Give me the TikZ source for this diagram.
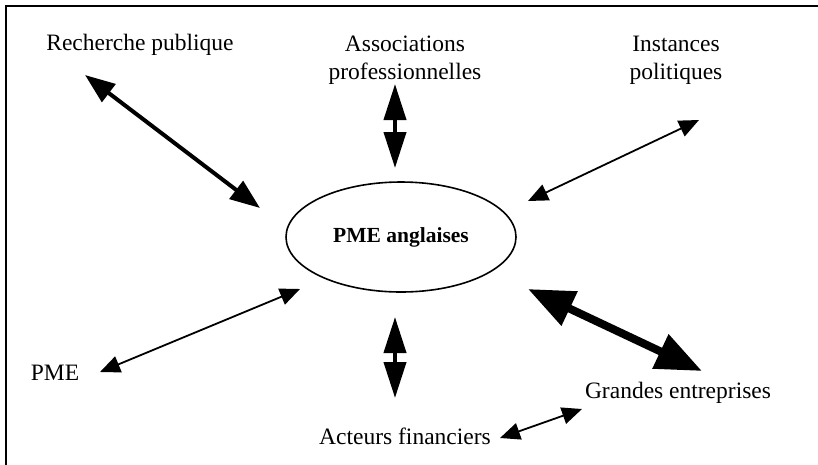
\documentclass[tikz,border=0pt]{standalone}
\usepackage{fontspec}
\setmainfont{Liberation Serif}
\usetikzlibrary{arrows.meta,shapes.geometric}
\tikzset{
  lbl/.style={font=\fontsize{23.5}{28}\selectfont, align=center, inner sep=0pt},
  thinarr/.style={line width=1.8pt, {Triangle[length=20pt,width=17pt]}-{Triangle[length=20pt,width=17pt]}},
  midarr/.style={line width=4pt, {Triangle[length=30pt,width=22pt]}-{Triangle[length=30pt,width=22pt]}},
  vertarr/.style={line width=4pt, {Triangle[length=36pt,width=22pt]}-{Triangle[length=36pt,width=22pt]}},
  bigarr/.style={line width=8pt, {Triangle[length=46pt,width=36pt]}-{Triangle[length=46pt,width=36pt]}},
}
\begin{document}
\begin{tikzpicture}[x=1pt,y=-1pt]
\useasboundingbox (0,0) rectangle (818,464);
\draw[line width=2pt] (820,6) -- (6,6) -- (6,470);
% labels
\node[lbl] (rp) at (140,45) {Recherche publique};
\node[lbl] (as) at (405,60) {Associations\\professionnelles};
\node[lbl] (ip) at (676,60) {Instances\\politiques};
\node[lbl] (pme) at (55,373) {PME};
\node[lbl] (ge) at (678,393) {Grandes entreprises};
\node[lbl] (af) at (405,436) {Acteurs financiers};
\node[draw, line width=1.6pt, ellipse, minimum width=230pt, minimum height=110pt, inner sep=0pt,
      font=\fontsize{21.5}{24}\selectfont\bfseries] (pa) at (401,237) {PME anglaises\hspace{10pt}};
% arrow end points
\coordinate (rpA) at (85,75);   \coordinate (rpB) at (260,208);
\coordinate (asA) at (395,84);  \coordinate (asB) at (395,168);
\coordinate (ipA) at (699,120); \coordinate (ipB) at (528,201);
\coordinate (pmA) at (100,372); \coordinate (pmB) at (300,289);
\coordinate (afA) at (395,317); \coordinate (afB) at (395,398);
\coordinate (geA) at (528,289); \coordinate (geB) at (702,371);
\coordinate (fgA) at (500,438); \coordinate (fgB) at (582,409);
% arrows
\draw[midarr] (rpA) -- (rpB);
\draw[vertarr] (asA) -- (asB);
\draw[thinarr] (ipA) -- (ipB);
\draw[thinarr] (pmA) -- (pmB);
\draw[vertarr] (afA) -- (afB);
\draw[bigarr] (geA) -- (geB);
\draw[thinarr] (fgA) -- (fgB);
\end{tikzpicture}
\end{document}
